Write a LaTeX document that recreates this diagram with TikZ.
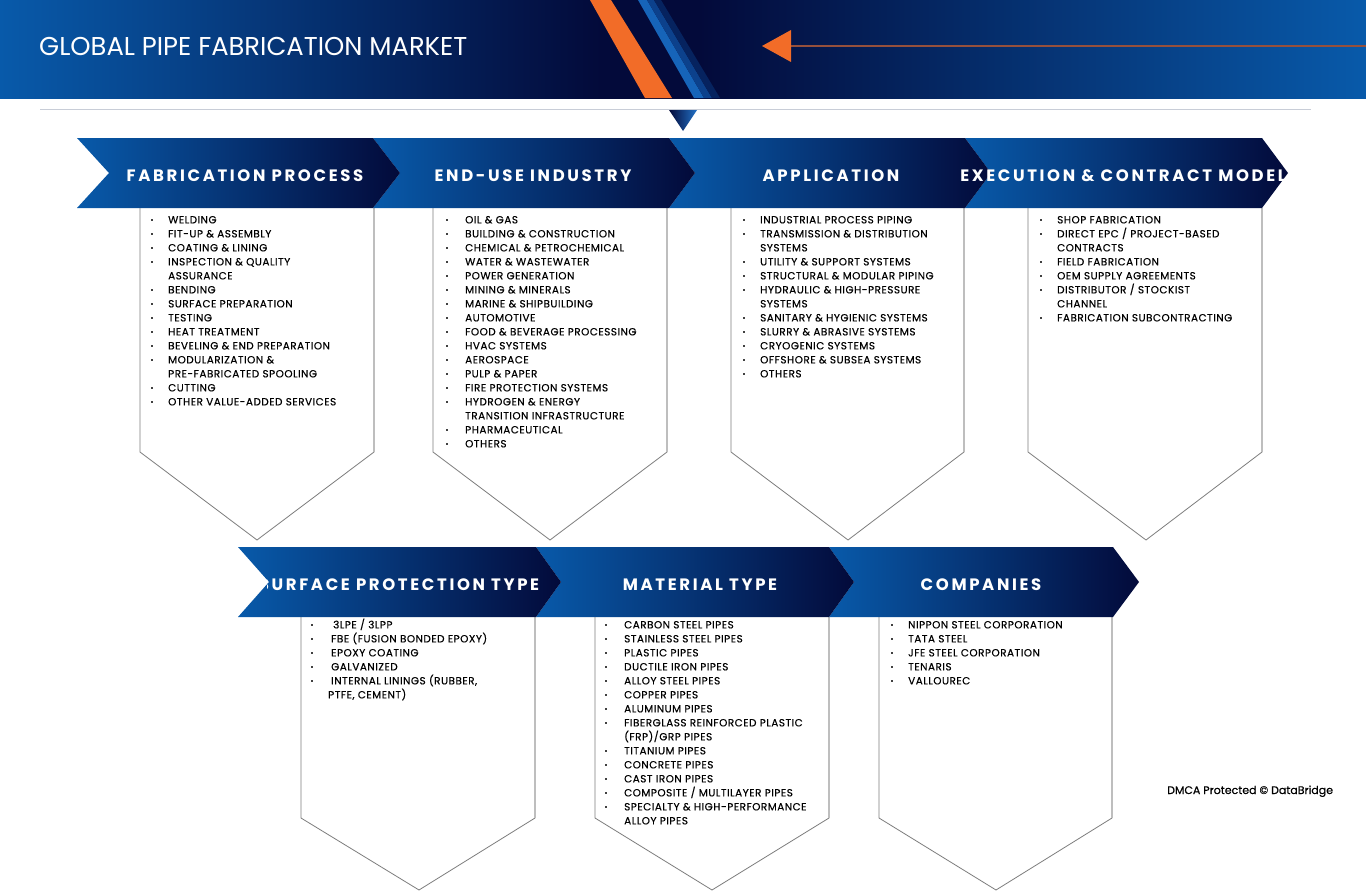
\documentclass[tikz,border=0pt]{standalone}
\usepackage{fontspec}
\setmainfont{Poppins}
\newfontfamily\headfont[LetterSpace=16]{Poppins}
\newfontfamily\itemfont[FakeBold=0.35,LetterSpace=5]{Poppins}
\newfontfamily\dmcafont[FakeBold=0.35]{Poppins}
\definecolor{cblue}{RGB}{8,90,170}
\definecolor{cnavy}{RGB}{3,10,58}
\definecolor{corange}{RGB}{242,108,40}
\definecolor{cline}{RGB}{150,80,60}
\definecolor{cgrey}{RGB}{200,205,215}
\definecolor{boxc}{RGB}{125,125,125}
\definecolor{boxr}{RGB}{190,190,190}
\definecolor{sA}{RGB}{22,100,185}
\definecolor{sB}{RGB}{12,65,140}
\definecolor{sC}{RGB}{6,35,95}
\definecolor{triB}{RGB}{35,115,200}
\tikzset{
  itm/.style={anchor=base west, inner sep=0pt, font=\itemfont\fontsize{10.4}{11}\selectfont, text=black},
  head/.style={anchor=base, inner sep=0pt, text=white, font=\headfont\bfseries\fontsize{16.5}{16.5}\selectfont},
  chevshade/.style={left color=cblue, right color=cnavy},
  boxline/.style={draw=boxc, line width=0.8pt, fill=white},
}
\newcommand\plist[5]{%
  \foreach \b/\t [count=\i] in {#5}{%
    \pgfmathsetmacro\yy{#4+14*(\i-1)}%
    \node[itm] (#1\i) at (#3,\yy+3.4) {\t};%
    \ifnum\b=1 \fill[black!75] (#2-1,\yy-1) rectangle (#2+1,\yy+1);\fi
  }}
\newcommand\pbox[6]{% left right pointx top vstart bottom
  \draw[boxline] (#1,#4) -- (#1,#5) -- (#3,#6) -- (#2,#5) -- (#2,#4);
  \draw[boxr, line width=1.4pt] (#2,#4) -- (#2,#5);
}
\begin{document}
\begin{tikzpicture}[x=1pt,y=-1pt]
\useasboundingbox (0,0) rectangle (1366,891);
\fill[white] (0,0) rectangle (1366,891);
% banner
\shade[left color=cblue, right color=cnavy] (0,0) rectangle (601,98);
\shade[left color=cnavy, right color=cnavy] (600,0) rectangle (700,98);
\shade[left color=cnavy, right color=cblue] (699,0) rectangle (1366,98);
\begin{scope}
\clip (0,0) rectangle (1366,98);
\fill[corange] (590,0) -- (611,0) -- (672,98) -- (645,98) -- cycle;
\fill[sA] (638,0) -- (647,0) -- (704,98) -- (694,98) -- cycle;
\fill[sB] (647,0) -- (654,0) -- (712,98) -- (704,98) -- cycle;
\fill[sC] (654,0) -- (661,0) -- (720,98) -- (712,98) -- cycle;
\end{scope}
\node[anchor=base west, inner sep=0pt, text=white, font=\fontsize{25.8}{26}\selectfont] (title) at (39,56) {GLOBAL PIPE FABRICATION MARKET};
\coordinate (arrT) at (762,46);
\coordinate (arrE) at (1366,46);
\draw[cline, line width=1.3pt] (790,46) -- (arrE);
\fill[corange] (arrT) -- (791,30) -- (791,62) -- cycle;
% rule and small triangle
\draw[cgrey, line width=1pt] (40,109) -- (1311,109);
\shade[left color=cnavy, right color=triB] (669,110) -- (697,110) -- (683,131) -- cycle;
% top boxes
\pbox{140}{374}{257}{208}{452}{540}
\pbox{433}{667}{550}{208}{452}{540}
\pbox{731}{964}{848}{208}{452}{540}
\pbox{1028}{1262}{1146}{208}{452}{540}
% bottom boxes
\pbox{301}{535}{419}{617}{818}{890}
\pbox{595}{829}{712}{617}{818}{890}
\pbox{879}{1112}{996}{617}{818}{890}
% top chevrons
\path[chevshade] (965,138) -- (1262,138) -- (1288,173) -- (1262,208) -- (965,208) -- (991,173) -- cycle;
\path[chevshade, path picture={\node[head] (h3) at (831,181.5) {APPLICATION};}]
  (669,138) -- (965,138) -- (991,173) -- (965,208) -- (669,208) -- (695,173) -- cycle;
\path[chevshade, path picture={\node[head] (h2) at (533,181.5) {END-USE INDUSTRY};}]
  (373,138) -- (669,138) -- (695,173) -- (669,208) -- (373,208) -- (400,173) -- cycle;
\path[chevshade, path picture={\node[head] (h1) at (245,181.5) {FABRICATION PROCESS};}]
  (77,138) -- (373,138) -- (400,173) -- (373,208) -- (77,208) -- (109,173) -- cycle;
\begin{scope}
  \clip (900,138) rectangle (1283,208);
  \node[head] (h4) at (1123,181.5) {EXECUTION \& CONTRACT MODEL};
\end{scope}
% bottom chevrons
\path[chevshade, path picture={\node[head] (h7) at (981,590.5) {COMPANIES};}]
  (829,547) -- (1113,547) -- (1139,582) -- (1113,617) -- (829,617) -- (854,582) -- cycle;
\path[chevshade, path picture={\node[head] (h6) at (700,590.5) {MATERIAL TYPE};}]
  (536,547) -- (829,547) -- (854,582) -- (829,617) -- (536,617) -- (561,582) -- cycle;
\path[chevshade] (238,547) -- (536,547) -- (561,582) -- (536,617) -- (238,617) -- (269,582) -- cycle;
\begin{scope}
  \clip (267,547) rectangle (560,617);
  \node[head] (h5) at (399,590.5) {SURFACE PROTECTION TYPE};
\end{scope}
% lists
\plist{fa}{152}{168}{220}{1/WELDING, 1/FIT-UP \& ASSEMBLY, 1/COATING \& LINING, 1/INSPECTION \& QUALITY, 0/ASSURANCE, 1/BENDING, 1/SURFACE PREPARATION, 1/TESTING, 1/HEAT TREATMENT, 1/BEVELING \& END PREPARATION, 1/MODULARIZATION \&, 0/PRE-FABRICATED SPOOLING, 1/CUTTING, 1/OTHER VALUE-ADDED SERVICES}
\plist{en}{447}{465}{220}{1/OIL \& GAS, 1/BUILDING \& CONSTRUCTION, 1/CHEMICAL \& PETROCHEMICAL, 1/WATER \& WASTEWATER, 1/POWER GENERATION, 1/MINING \& MINERALS, 1/MARINE \& SHIPBUILDING, 1/AUTOMOTIVE, 1/FOOD \& BEVERAGE PROCESSING, 1/HVAC SYSTEMS, 1/AEROSPACE, 1/PULP \& PAPER, 1/FIRE PROTECTION SYSTEMS, 1/HYDROGEN \& ENERGY, 0/TRANSITION INFRASTRUCTURE, 1/PHARMACEUTICAL, 1/OTHERS}
\plist{ap}{744}{760}{220}{1/INDUSTRIAL PROCESS PIPING, 1/TRANSMISSION \& DISTRIBUTION, 0/SYSTEMS, 1/UTILITY \& SUPPORT SYSTEMS, 1/STRUCTURAL \& MODULAR PIPING, 1/HYDRAULIC \& HIGH-PRESSURE, 0/SYSTEMS, 1/SANITARY \& HYGIENIC SYSTEMS, 1/SLURRY \& ABRASIVE SYSTEMS, 1/CRYOGENIC SYSTEMS, 1/OFFSHORE \& SUBSEA SYSTEMS, 1/OTHERS}
\plist{ex}{1041}{1057}{220}{1/SHOP FABRICATION, 1/{DIRECT EPC / PROJECT-BASED}, 0/CONTRACTS, 1/FIELD FABRICATION, 1/OEM SUPPLY AGREEMENTS, 1/{DISTRIBUTOR / STOCKIST}, 0/CHANNEL, 1/FABRICATION SUBCONTRACTING}
\plist{su}{312}{331}{625}{1/{\hspace{2pt}3LPE / 3LPP}, 1/FBE (FUSION BONDED EPOXY), 1/EPOXY COATING, 1/GALVANIZED, 1/{INTERNAL LININGS (RUBBER,}, 0/{\hspace{-3pt}PTFE, CEMENT)}}
\plist{ma}{606}{624}{625}{1/CARBON STEEL PIPES, 1/STAINLESS STEEL PIPES, 1/PLASTIC PIPES, 1/DUCTILE IRON PIPES, 1/ALLOY STEEL PIPES, 1/COPPER PIPES, 1/ALUMINUM PIPES, 1/FIBERGLASS REINFORCED PLASTIC, 0/{(FRP)/GRP PIPES}, 1/TITANIUM PIPES, 1/CONCRETE PIPES, 1/CAST IRON PIPES, 1/{COMPOSITE / MULTILAYER PIPES}, 1/SPECIALTY \& HIGH-PERFORMANCE, 0/ALLOY PIPES}
\plist{co}{892}{908}{625}{1/NIPPON STEEL CORPORATION, 1/TATA STEEL, 1/JFE STEEL CORPORATION, 1/TENARIS, 1/VALLOUREC}
\node[anchor=base west, inner sep=0pt, font=\dmcafont\fontsize{11}{12}\selectfont] (dmca) at (1167,794) {DMCA Protected © DataBridge};
\end{tikzpicture}
\end{document}
